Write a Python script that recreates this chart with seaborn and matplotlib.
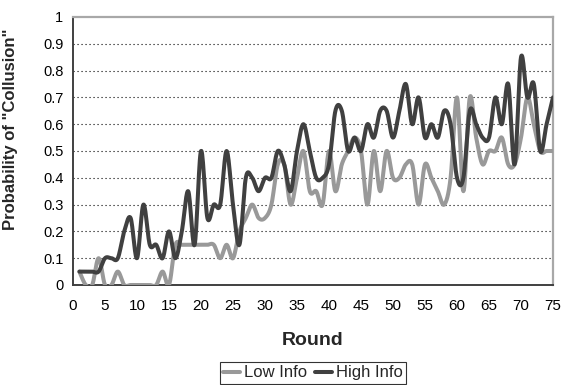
import numpy as np
import pandas as pd
import seaborn as sns
import matplotlib
matplotlib.use("Agg")
import matplotlib.pyplot as plt
from matplotlib.lines import Line2D

rounds = list(range(1, 76))
low_info = [0.05, 0, 0, 0.1, 0, 0, 0.05, 0, 0, 0,
            0, 0, 0, 0.05, 0, 0.15, 0.15, 0.15, 0.15, 0.15,
            0.15, 0.15, 0.1, 0.15, 0.1, 0.2, 0.25, 0.3, 0.25, 0.25,
            0.3, 0.45, 0.45, 0.3, 0.4, 0.5, 0.35, 0.35, 0.3, 0.5,
            0.35, 0.45, 0.5, 0.55, 0.5, 0.3, 0.5, 0.35, 0.5, 0.4,
            0.4, 0.45, 0.45, 0.3, 0.45, 0.4, 0.35, 0.3, 0.4, 0.7,
            0.35, 0.7, 0.55, 0.45, 0.5, 0.5, 0.55, 0.45, 0.45, 0.55,
            0.7, 0.6, 0.5, 0.5, 0.5]
high_info = [0.05, 0.05, 0.05, 0.05, 0.1, 0.1, 0.1, 0.2, 0.25, 0.1,
             0.3, 0.15, 0.15, 0.1, 0.2, 0.1, 0.2, 0.35, 0.15, 0.5,
             0.25, 0.3, 0.3, 0.5, 0.3, 0.15, 0.4, 0.4, 0.35, 0.4,
             0.4, 0.5, 0.45, 0.35, 0.5, 0.6, 0.5, 0.4, 0.4, 0.45,
             0.65, 0.65, 0.5, 0.55, 0.5, 0.6, 0.55, 0.65, 0.65, 0.55,
             0.65, 0.75, 0.6, 0.7, 0.55, 0.6, 0.55, 0.65, 0.6, 0.4,
             0.4, 0.65, 0.6, 0.55, 0.55, 0.7, 0.6, 0.75, 0.45, 0.85,
             0.7, 0.75, 0.5, 0.6, 0.7]
series_names = ["Low Info", "High Info"]
x_ticks = list(range(0, 80, 5))
y_ticks = [round(0.1 * i, 1) for i in range(11)]


def smooth(xs, ys, n=16):
    """Catmull-Rom curve through the points (like a 'smoothed line' chart)."""
    xs = np.asarray(xs, float)
    ys = np.asarray(ys, float)
    px = np.concatenate([[xs[0]], xs, [xs[-1]]])
    py = np.concatenate([[ys[0]], ys, [ys[-1]]])
    t = np.linspace(0, 1, n, endpoint=False)
    outx, outy = [], []
    for i in range(1, len(px) - 2):
        for p, out in ((px, outx), (py, outy)):
            p0, p1, p2, p3 = p[i - 1], p[i], p[i + 1], p[i + 2]
            out.extend(0.5 * (2 * p1 + (-p0 + p2) * t
                              + (2 * p0 - 5 * p1 + 4 * p2 - p3) * t ** 2
                              + (-p0 + 3 * p1 - 3 * p2 + p3) * t ** 3))
    outx.append(xs[-1])
    outy.append(ys[-1])
    return np.array(outx), np.array(outy)


frames = []
for name, vals in zip(series_names, [low_info, high_info]):
    sx, sy = smooth(rounds, vals)
    frames.append(pd.DataFrame({"Round": sx, "P": sy, "Series": name}))
df = pd.concat(frames, ignore_index=True)

sns.set_style("white")
plt.rcParams["font.family"] = ["Liberation Sans", "DejaVu Sans"]

fig = plt.figure(figsize=(5.65, 3.85), dpi=100)
ax = fig.add_axes([73 / 565, 100 / 385, 480 / 565, 268 / 385])

colors = {"Low Info": "#999999", "High Info": "#404040"}
sns.lineplot(data=df, x="Round", y="P", hue="Series", units="Series",
             estimator=None, sort=False, palette=colors,
             linewidth=2.9, ax=ax, legend=False, zorder=3)

ax.set_xlim(0, 75)
ax.set_ylim(0, 1)
ax.set_xticks(x_ticks)
ax.set_xticklabels([str(v) for v in x_ticks], fontsize=11)
ax.set_yticks(y_ticks)
ax.set_yticklabels([f"{v:g}" for v in y_ticks], fontsize=10.5)

for v in y_ticks[1:-1]:
    ax.axhline(v, color="black", linewidth=0.8, linestyle=(0, (1, 2.6)), zorder=1)

for side in ("top", "right"):
    ax.spines[side].set_color("#a8a8a8")
    ax.spines[side].set_linewidth(1.6)
for side in ("left", "bottom"):
    ax.spines[side].set_color("#404040")
    ax.spines[side].set_linewidth(1.4)

ax.tick_params(axis="both", direction="out", length=4, width=1, color="#404040",
               pad=3, labelcolor="black")
ax.tick_params(axis="x", pad=6)

ax.set_xlabel("Round", fontsize=14, fontweight="bold", labelpad=14)
ax.set_ylabel('Probability of "Collusion"', fontsize=12, fontweight="bold")
ax.yaxis.set_label_coords(-0.115, 0.58)

handles = [Line2D([], [], color=colors[n], lw=2.9) for n in series_names]
leg = fig.legend(handles, series_names, loc="upper center",
                 bbox_to_anchor=(313 / 565, 1 - 362 / 385), ncol=2,
                 fontsize=12, frameon=True, fancybox=False, handlelength=1.0,
                 handletextpad=0.25, columnspacing=0.5, borderpad=0.2,
                 borderaxespad=0)
leg.get_frame().set_edgecolor("black")
leg.get_frame().set_linewidth(0.8)

fig.savefig("out.png", dpi=100)
